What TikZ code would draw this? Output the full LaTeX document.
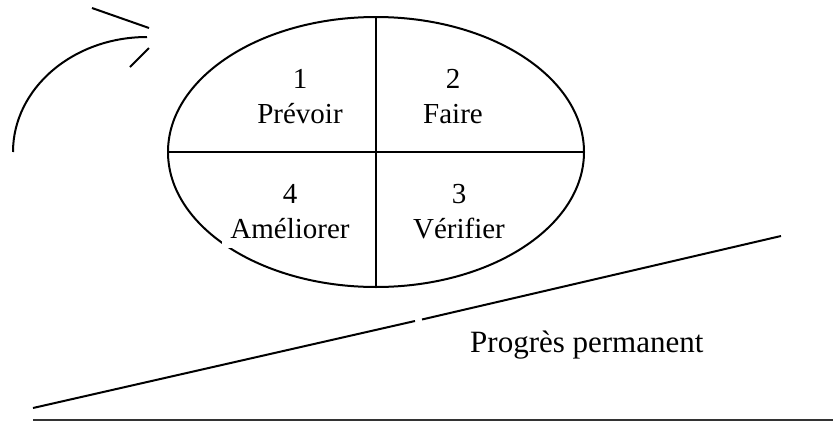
\documentclass[tikz,border=0pt]{standalone}
\usepackage{fontspec}
\setmainfont{Liberation Serif}
\begin{document}
\begin{tikzpicture}[x=1pt,y=-1pt,
  stroke/.style={line width=2pt,black},
  phase/.style={font=\fontsize{29}{35}\selectfont,align=center,inner sep=0pt,anchor=base},
  caption/.style={font=\fontsize{31}{37}\selectfont,inner sep=0pt,anchor=base west}]
\useasboundingbox (0,0) rectangle (833,421);

% the cycle: ellipse split into four quarters
\draw[stroke] (376,152) ellipse [x radius=208, y radius=135];
\draw[stroke] (376,17) -- (376,287);
\draw[stroke] (168,152) -- (584,152);

% quarter labels (anchored on the baseline of the word line)
\node[phase] (p1) at (300,123) {1\\Prévoir};
\node[phase] (p2) at (453,123) {2\\Faire};
\node[phase, fill=white, minimum width=136pt, inner ysep=10pt] (p4) at (290,238) {4\\Améliorer};
\node[phase] (p3) at (459,238) {3\\Vérifier};

% rotation arrow on the left
\draw[stroke] (13,152) arc[start angle=180, end angle=270, x radius=134, y radius=115];
\draw[stroke] (92,8) -- (149,28);
\draw[stroke] (130,67) -- (149,48);

% rising slope
\draw[stroke] (33,408) -- (415,321);
\draw[stroke] (422,319.5) -- (781,236);
\node[caption] (cap) at (470,352) {Progrès permanent};

% ground line
\draw[line width=1.2pt,black!80] (33,420) -- (833,420);
\end{tikzpicture}
\end{document}
